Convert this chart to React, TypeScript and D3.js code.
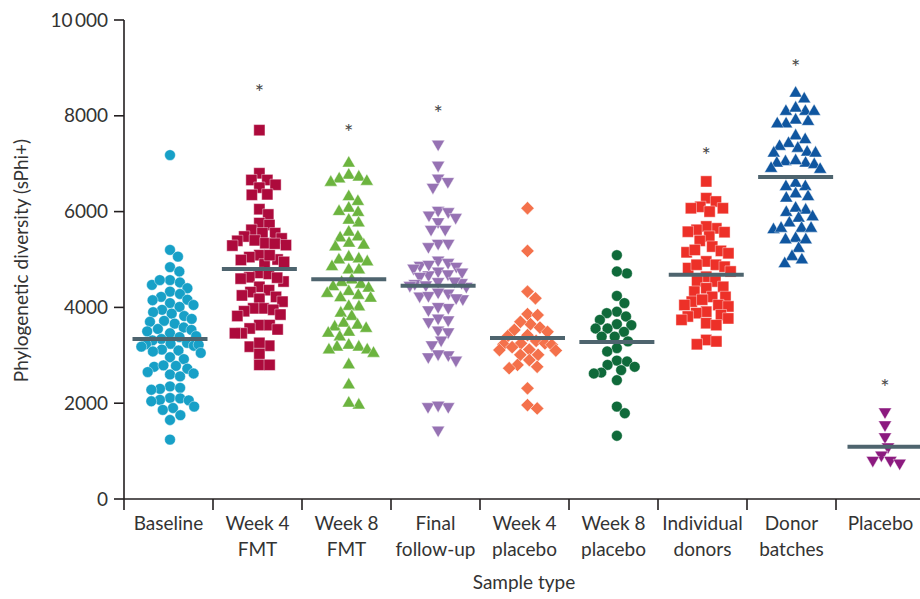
import React, { useMemo } from "react";
import * as d3 from "d3";

const categories = [
  "Baseline",
  "Week 4 FMT",
  "Week 8 FMT",
  "Final follow-up",
  "Week 4 placebo",
  "Week 8 placebo",
  "Individual donors",
  "Donor batches",
  "Placebo",
];
const categoryLines = [
  ["Baseline"],
  ["Week 4", "FMT"],
  ["Week 8", "FMT"],
  ["Final", "follow-up"],
  ["Week 4", "placebo"],
  ["Week 8", "placebo"],
  ["Individual", "donors"],
  ["Donor", "batches"],
  ["Placebo"],
];

const baseline = [
  7180, 5200, 5060, 4840, 4750, 4570, 4520, 4470, 4570, 4400, 4330, 4280, 4220, 4160,
  4150, 4090, 4050, 4010, 3950, 3900, 3870, 3820, 3760, 3700, 3660, 3720, 3580, 3530,
  3500, 3460, 3550, 3400, 3380, 3340, 3310, 3260, 3230, 3200, 3180, 3220, 3240, 3120,
  3080, 3050, 3100, 2960, 2920, 2780, 2760, 2720, 2790, 2650, 2600, 2560, 2620, 2350,
  2320, 2300, 2280, 2110, 2100, 2070, 2040, 2060, 1930, 1900, 1860, 1750, 1650, 1240,
];
const week4Fmt = [
  7700, 6800, 6660, 6660, 6500, 6560, 6350, 6360, 6050, 5940, 5760, 5720, 5620, 5550,
  5550, 5480, 5440, 5400, 5390, 5340, 5330, 5300, 5290, 5090, 5050, 5000, 4990, 4950,
  4900, 5090, 4720, 4700, 4630, 4600, 4540, 4620, 4430, 4360, 4320, 4250, 4220, 4120,
  4180, 3980, 3980, 3920, 3950, 3850, 3820, 3630, 3630, 3540, 3560, 3460, 3460, 3200,
  3180, 3260, 3030, 2800, 2800,
];
const week8Fmt = [
  7010, 6760, 6720, 6680, 6610, 6630, 6310, 6210, 6070, 5980, 6000, 5760, 5820, 5570,
  5450, 5470, 5300, 5260, 5340, 5050, 4990, 5010, 4950, 4850, 4780, 4780, 4570, 4520,
  4480, 4430, 4400, 4330, 4290, 4250, 4200, 4190, 4010, 4020, 3880, 3810, 3630, 3560,
  3590, 3670, 3460, 3480, 3380, 3210, 3170, 3110, 3170, 3040, 3110, 2800, 2380, 1960,
  2000,
];
const finalFollowUp = [
  7410, 6970, 6700, 6630, 6510, 6030, 5930, 6000, 5880, 5790, 5630, 5630, 5340, 5270,
  5340, 4990, 4940, 4880, 4820, 4760, 4700, 4680, 4860, 4900, 4740, 4650, 4540, 4500,
  4460, 4440, 4470, 4520, 4550, 4300, 4240, 4180, 4200, 4250, 4320, 4000, 3950, 4020,
  3740, 3700, 3780, 3530, 3490, 3320, 3220, 3010, 2900, 2970, 3030, 1930, 1930, 1960,
  1440,
];
const week4Placebo = [
  6070, 5180, 4330, 4190, 3860, 3840, 3650, 3700, 3580, 3530, 3490, 3420, 3400, 3300,
  3250, 3230, 3250, 3220, 3170, 3100, 3120, 3110, 3010, 3010, 2900, 2800, 2730, 2760,
  2310, 1960, 1890,
];
const week8Placebo = [
  5090, 4710, 4750, 4240, 4090, 3910, 3880, 3810, 3740, 3630, 3650, 3560, 3560, 3490,
  3390, 3390, 3290, 3150, 3080, 2890, 2870, 2800, 2760, 2690, 2640, 2620, 2480, 1930,
  1790, 1320,
];
const individualDonors = [
  6630, 6280, 6210, 6100, 6070, 6000, 6070, 5650, 5690, 5620, 5580, 5570, 5480, 5390,
  5270, 5180, 5130, 5150, 5200, 4960, 4890, 4850, 4820, 4890, 4750, 4640, 4540, 4540,
  4430, 4400, 4330, 4220, 4220, 4120, 4160, 4050, 4020, 4050, 3910, 3880, 3840, 3810,
  3770, 3740, 3670, 3630, 3320, 3230, 3290,
];
const donorBatches = [
  8470, 8350, 8090, 8090, 8090, 8160, 7880, 7910, 7830, 7830, 7580, 7500, 7420, 7360,
  7320, 7240, 7220, 7220, 7040, 7010, 7060, 7010, 6980, 6900, 6880, 6520, 6590, 6520,
  6310, 6370, 6280, 6030, 5980, 6070, 5890, 5860, 5760, 5650, 5620, 5650, 5650, 5440,
  5410, 5410, 5230, 5060, 4990, 4910,
];
const placebo = [1820, 1550, 1300, 1090, 920, 810, 750, 810];

const groupValues = [
  baseline,
  week4Fmt,
  week8Fmt,
  finalFollowUp,
  week4Placebo,
  week8Placebo,
  individualDonors,
  donorBatches,
  placebo,
];
const centralValues = [3340, 4800, 4590, 4450, 3360, 3280, 4680, 6720, 1090];
const significanceMarks = [null, 8580, 7745, 8140, null, null, 7265, 9100, 2420];
const colors = [
  "#17a0c7",
  "#ad0a3c",
  "#6cb43f",
  "#9672b3",
  "#f4714b",
  "#0f6a3a",
  "#ed3028",
  "#0f56a0",
  "#8c1a7f",
];
const shapes = [
  "circle",
  "square",
  "triangle",
  "triangleDown",
  "diamond",
  "circle",
  "square",
  "triangle",
  "triangleDown",
];
const yTicks = [0, 2000, 4000, 6000, 8000, 10000];

const W = 920;
const H = 599;
const FONT = "Lato, 'Open Sans', sans-serif";
const TEXT = "#333333";

function swarm(values: number[], y: (v: number) => number, D: number, maxHalf: number): number[] {
  const order = values.map((_, i) => i).sort((a, b) => values[b] - values[a]);
  const placed: { x: number; y: number }[] = [];
  const xs = new Array(values.length).fill(0);
  for (const i of order) {
    const yi = y(values[i]);
    const near = placed.filter((p) => Math.abs(p.y - yi) < D);
    const cands = [0];
    near.forEach((p) => {
      const dx = Math.sqrt(D * D - (p.y - yi) ** 2);
      cands.push(p.x + dx, p.x - dx);
    });
    cands.sort((a, b) => Math.abs(a) - Math.abs(b));
    let chosen = 0;
    for (const c of cands) {
      if (near.every((p) => (p.x - c) ** 2 + (p.y - yi) ** 2 >= D * D - 1e-6)) {
        chosen = c;
        break;
      }
    }
    xs[i] = chosen;
    placed.push({ x: chosen, y: yi });
  }
  // soft compression to keep the swarm within the column
  return xs.map((x) => maxHalf * Math.tanh(x / maxHalf));
}

function symbolPath(shape: string): { d: string; rotate: number } {
  if (shape === "circle") return { d: d3.symbol(d3.symbolCircle, 92)() as string, rotate: 0 };
  if (shape === "square") return { d: d3.symbol(d3.symbolSquare, 125)() as string, rotate: 0 };
  if (shape === "triangle") return { d: d3.symbol(d3.symbolTriangle, 74)() as string, rotate: 0 };
  if (shape === "triangleDown") return { d: d3.symbol(d3.symbolTriangle, 74)() as string, rotate: 180 };
  return { d: d3.symbol(d3.symbolSquare, 88)() as string, rotate: 45 };
}

export default function App() {
  const y = d3.scaleLinear().domain([0, 10000]).range([499, 20]);
  const xBand = d3.scaleBand<string>().domain(categories).range([124, 925]);
  const xCenter = d3.scalePoint<string>().domain(categories).range([170, 885]);

  const swarms = useMemo(
    () => groupValues.map((vals) => swarm(vals, (v) => y(v), 10.5, 36)),
    []
  );

  const fmt = (v: number) => (v >= 10000 ? d3.format(",")(v).replace(",", "\u2009") : String(v));

  return (
    <svg
      width={W}
      height={H}
      style={{ position: "absolute", left: 0, top: 0, background: "#fff" }}
      fontFamily={FONT}
    >
      {/* points */}
      {categories.map((cat, gi) => {
        const sp = symbolPath(shapes[gi]);
        const cx = xCenter(cat) as number;
        return (
          <g key={cat}>
            {groupValues[gi].map((v, i) => (
              <path
                key={i}
                d={sp.d}
                transform={`translate(${cx + swarms[gi][i]},${y(v)}) rotate(${sp.rotate})`}
                fill={colors[gi]}
                stroke="#ffffff"
                strokeWidth={0.6}
                strokeOpacity={0.7}
              />
            ))}
          </g>
        );
      })}

      {/* central lines */}
      {categories.map((cat, gi) => {
        const cx = xCenter(cat) as number;
        return (
          <line
            key={"m" + cat}
            x1={cx - 37.5}
            x2={cx + 37.5}
            y1={y(centralValues[gi])}
            y2={y(centralValues[gi])}
            stroke="#4e646e"
            strokeWidth={4}
          />
        );
      })}

      {/* significance */}
      {categories.map((cat, gi) =>
        significanceMarks[gi] == null ? null : (
          <text
            key={"s" + cat}
            x={xCenter(cat) as number}
            y={y(significanceMarks[gi] as number) + 12}
            textAnchor="middle"
            fontSize={22}
            fill="#4a4a4a"
          >
            *
          </text>
        )
      )}

      {/* y axis */}
      <line x1={124} x2={124} y1={20} y2={510} stroke="#231f20" strokeWidth={1.6} />
      {yTicks.map((t) => (
        <g key={"y" + t}>
          <line x1={114} x2={124} y1={y(t)} y2={y(t)} stroke="#231f20" strokeWidth={1.6} />
          <text x={108} y={y(t) + 6.5} textAnchor="end" fontSize={19} fill={TEXT}>
            {fmt(t)}
          </text>
        </g>
      ))}
      <text
        transform={`translate(28,${(y(0) + y(10000)) / 2 + 1}) rotate(-90)`}
        textAnchor="middle"
        fontSize={19}
        fill={TEXT}
      >
        Phylogenetic diversity (sPhi+)
      </text>

      {/* x axis */}
      <line x1={124} x2={W} y1={499} y2={499} stroke="#231f20" strokeWidth={1.6} />
      {categories.slice(1).map((cat) => {
        const bx = xBand(cat) as number;
        return <line key={"t" + cat} x1={bx} x2={bx} y1={499} y2={510} stroke="#231f20" strokeWidth={1.6} />;
      })}
      {categories.map((cat, gi) => (
        <text key={"l" + cat} textAnchor="middle" fontSize={19} fill={TEXT}>
          {categoryLines[gi].map((ln, li) => (
            <tspan key={li} x={(xBand(cat) as number) + xBand.bandwidth() / 2} y={530 + li * 26}>
              {ln}
            </tspan>
          ))}
        </text>
      ))}
      <text x={(124 + W) / 2 + 2} y={589} textAnchor="middle" fontSize={19} fill={TEXT}>
        Sample type
      </text>
    </svg>
  );
}
